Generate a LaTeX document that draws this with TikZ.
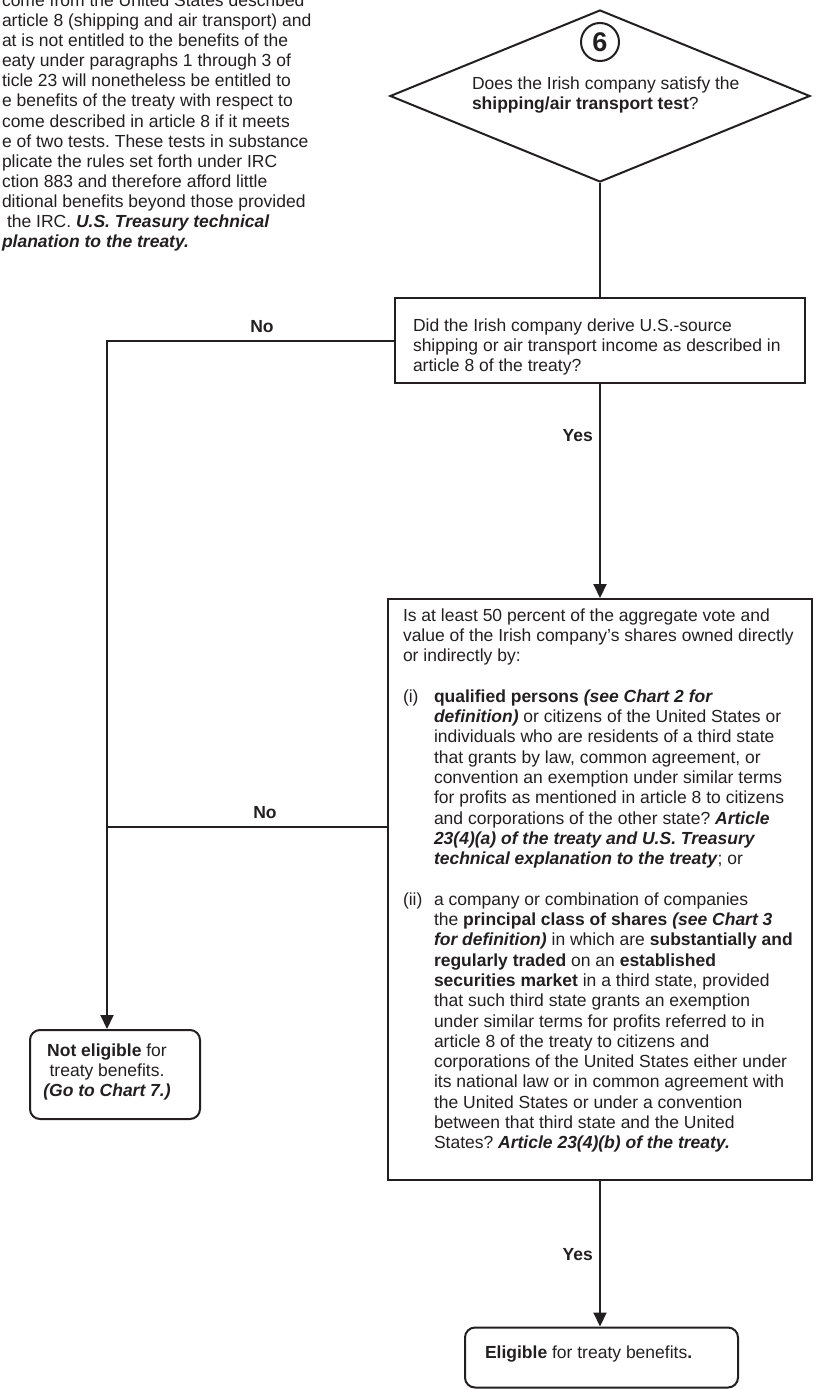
\documentclass[tikz,border=0pt]{standalone}
\usepackage{fontspec}
\setmainfont{Liberation Sans}
\usetikzlibrary{shapes.geometric,arrows.meta}
\definecolor{ink}{HTML}{231F20}
\frenchspacing
\begin{document}
\begin{tikzpicture}[x=1pt,y=-1pt,
  line/.style={draw=ink,line width=2pt},
  arr/.style={line,-{Triangle[length=14pt,width=13pt]}},
  txt/.style={text=ink,font=\fontsize{17.5}{20.3}\selectfont,inner sep=0pt,outer sep=0pt,anchor=north west,align=left},
  lbl/.style={text=ink,font=\fontsize{17.5}{20.3}\selectfont\bfseries,inner sep=0pt},
  box/.style={draw=ink,line width=2pt,rectangle,inner sep=0pt},
  rbox/.style={box,rounded corners=10pt}]
\useasboundingbox (0,0) rectangle (817,1389);

% side note (cut at the page edge)
\node[txt,font=\fontsize{17.5}{20.1}\selectfont] (note) at (2,-7.6) {\strut come from the United States described\\
article 8 (shipping and air transport) and\\
at is not entitled to the benefits of the\\
eaty under paragraphs 1 through 3 of\\
ticle 23 will nonetheless be entitled to\\
e benefits of the treaty with respect to\\
come described in article 8 if it meets\\
e of two tests. These tests in substance\\
plicate the rules set forth under IRC\\
ction 883 and therefore afford little\\
ditional benefits beyond those provided\\
\hspace*{5pt}the IRC. \textbf{\textit{U.S. Treasury technical}}\\
\textbf{\textit{planation to the treaty.}}};

% decision diamond
\node[diamond,draw=ink,line width=2pt,minimum width=420pt,minimum height=172pt,inner sep=0pt] (q1) at (600,96) {};
\node[circle,draw=ink,line width=2pt,minimum size=38pt,inner sep=0pt,text=ink,font=\fontsize{27}{27}\selectfont\bfseries] (c6) at (600,42) {6};
\node[txt] (q1t) at (472,74.8) {\strut Does the Irish company satisfy the\\\textbf{shipping/air transport test}?};

% box 2
\node[box,minimum width=410pt,minimum height=85pt] (q2) at (600,340.5) {};
\node[txt] (q2t) at (413,316.8) {\strut Did the Irish company derive U.S.-source\\
shipping or air transport income as described in\\
article 8 of the treaty?};

% box 3
\node[box,minimum width=424pt,minimum height=581pt] (q3) at (600,889.5) {};
\node[txt] (q3a) at (403,606.8) {\strut Is at least 50 percent of the aggregate vote and\\
value of the Irish company’s shares owned directly\\
or indirectly by:};
\node[txt] (q3il) at (403,688) {\strut(i)};
\node[txt] (q3i) at (434,688) {\strut\textbf{qualified persons \textit{(see Chart 2 for}}\\
\textbf{\textit{definition)}} or citizens of the United States or\\
individuals who are residents of a third state\\
that grants by law, common agreement, or\\
convention an exemption under similar terms\\
for profits as mentioned in article 8 to citizens\\
and corporations of the other state? \textbf{\textit{Article}}\\
\textbf{\textit{23(4)(a) of the treaty and U.S. Treasury}}\\
\textbf{\textit{technical explanation to the treaty}}; or};
\node[txt] (q3iil) at (403,891) {\strut(ii)};
\node[txt] (q3ii) at (434,891) {\strut a company or combination of companies\\
the \textbf{principal class of shares \textit{(see Chart 3}}\\
\textbf{\textit{for definition)}} in which are \textbf{substantially and}\\
\textbf{regularly traded} on an \textbf{established}\\
\textbf{securities market} in a third state, provided\\
that such third state grants an exemption\\
under similar terms for profits referred to in\\
article 8 of the treaty to citizens and\\
corporations of the United States either under\\
its national law or in common agreement with\\
the United States or under a convention\\
between that third state and the United\\
States? \textbf{\textit{Article 23(4)(b) of the treaty.}}};

% outcomes
\node[rbox,minimum width=170pt,minimum height=89pt] (ne) at (115,1074.5) {};
\node[txt,anchor=north,align=center] (net) at (107,1041.8) {\strut\textbf{Not eligible} for\\treaty benefits.\\\textbf{\textit{(Go to Chart 7.)}}};
\node[rbox,minimum width=273pt,minimum height=60pt] (el) at (601.5,1357.5) {};
\node[txt] (elt) at (485,1343.8) {\strut\textbf{Eligible} for treaty benefits\textbf{.}};

% connectors
\coordinate (j1) at (107,340.5);
\coordinate (j2) at (107,827);
\draw[line] (q1.south) -- (q1.south |- q2.north);
\draw[arr] (q2.west) -- (j1) -- (j1 |- ne.north);
\draw[line] (q3.west |- j2) -- (j2);
\draw[arr] (q2.south) -- (q3.north);
\draw[arr] (q3.south) -- (q3.south |- el.north);

% labels
\node[lbl] (no1) at (262,327) {No};
\node[lbl] (no2) at (265,813) {No};
\node[lbl,anchor=east] (yes1) at (593,436) {Yes};
\node[lbl,anchor=east] (yes2) at (593,1255) {Yes};
\end{tikzpicture}
\end{document}
